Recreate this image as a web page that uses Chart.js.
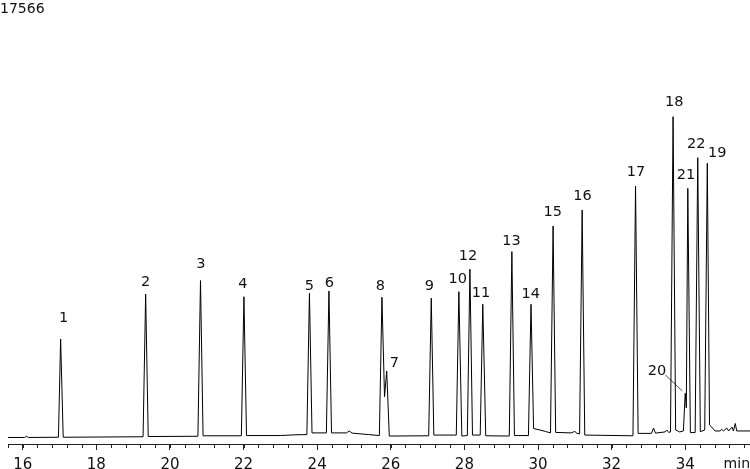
<!DOCTYPE html>
<html>
<head>
<meta charset="utf-8">
<script src="https://cdn.jsdelivr.net/npm/chart.js@4.4.0/dist/chart.umd.min.js"></script>
<style>
    html, body { margin: 0; padding: 0; background: #fff; }
    #wrap { width: 750px; height: 469px; position: relative; }
</style>
</head>
<body>
<div id="wrap"><canvas id="chromatogram"></canvas></div>
<script>
// Trace: retention time (min) and detector signal (counts)
var times = [
    15.60, 16.05, 16.10, 16.16, 16.97, 17.03, 17.10, 19.27, 19.34, 19.41,
    20.76, 20.83, 20.90, 21.94, 22.01, 22.08, 23.00, 23.40, 23.72, 23.79,
    23.86, 24.25, 24.32, 24.39, 24.80, 24.87, 24.95, 25.40, 25.69, 25.76,
    25.83, 25.89, 25.96, 27.03, 27.10, 27.17, 27.78, 27.85, 27.93, 28.08,
    28.15, 28.22, 28.43, 28.50, 28.58, 29.22, 29.29, 29.36, 29.74, 29.81,
    29.88, 30.00, 30.20, 30.34, 30.41, 30.48, 30.90, 31.00, 31.06, 31.13,
    31.20, 31.27, 32.58, 32.65, 32.72, 33.08, 33.14, 33.19, 33.45, 33.50,
    33.55, 33.60, 33.67, 33.74, 33.85, 33.95, 34.00, 34.03, 34.07, 34.14,
    34.27, 34.34, 34.41, 34.53, 34.60, 34.66, 34.72, 34.81, 34.95, 34.99,
    35.04, 35.13, 35.18, 35.27, 35.31, 35.36, 35.40, 35.76
];
var signal = [
    270, 270, 320, 270, 280, 4350, 280, 300, 6210, 310,
    320, 6770, 340, 340, 6100, 350, 350, 380, 390, 6240,
    460, 460, 6340, 460, 460, 540, 450, 390, 350, 6080,
    1960, 3020, 330, 340, 6040, 370, 370, 6310, 330, 350,
    7240, 370, 370, 5790, 340, 330, 7970, 350, 350, 5790,
    640, 600, 520, 460, 9030, 480, 460, 520, 440, 420,
    9690, 370, 340, 10690, 440, 440, 660, 450, 500, 580,
    480, 500, 13560, 580, 500, 540, 2100, 1500, 10590, 470,
    480, 11860, 510, 580, 11630, 790, 700, 540, 540, 610,
    540, 660, 540, 700, 540, 850, 540, 540
];

// Peak numbers and label anchors (time, counts)
var peakNames = ['1', '2', '3', '4', '5', '6', '7', '8', '9', '10', '11',
                 '12', '13', '14', '15', '16', '17', '18', '19', '20', '21', '22'];
var peakLabelTimes = [17.11, 19.34, 20.84, 21.98, 23.79, 24.33, 26.10, 25.72, 27.05, 27.82, 28.45,
                      28.10, 29.28, 29.80, 30.40, 31.21, 32.66, 33.70, 34.87, 33.23, 34.02, 34.30];
var peakLabelCounts = [5210, 6720, 7460, 6610, 6530, 6680, 3360, 6540, 6520, 6830, 6240,
                       7760, 8410, 6220, 9620, 10270, 11240, 14150, 12040, 3030, 11120, 12420];

// leader line from label 20 to its peak
var leaderTimes = [33.46, 33.92];
var leaderCounts = [2860, 2200];

var xTicks = [16, 18, 20, 22, 24, 26, 28, 30, 32, 34];
var xMin = 15.6;
var xMax = 35.76;
var maxCount = 17566;

var FONT = '"DejaVu Sans", Verdana, sans-serif';

// peak numbers, minor ticks, max count and the "min" unit
var annotatePlugin = {
    id: 'annotate',
    afterDraw: function (chart) {
        var ctx = chart.ctx;
        var x = chart.scales.x;
        var y = chart.scales.y;
        ctx.save();

        // minor ticks every 0.4 min
        ctx.strokeStyle = '#222';
        ctx.lineWidth = 1;
        ctx.beginPath();
        for (var t = xMin; t <= xMax; t += 0.4) {
            var px = Math.round(x.getPixelForValue(t)) + 0.5;
            ctx.moveTo(px, x.top);
            ctx.lineTo(px, x.top + 4);
        }
        ctx.stroke();

        ctx.fillStyle = '#111';
        ctx.font = '14.5px ' + FONT;
        ctx.textAlign = 'center';
        ctx.textBaseline = 'middle';
        peakNames.forEach(function (name, i) {
            ctx.fillText(name, x.getPixelForValue(peakLabelTimes[i]), y.getPixelForValue(peakLabelCounts[i]));
        });

        ctx.font = '14px ' + FONT;
        ctx.textAlign = 'left';
        ctx.textBaseline = 'alphabetic';
        ctx.fillText(String(maxCount), 0, 13);

        ctx.textAlign = 'right';
        ctx.fillText('min', 750, 468);
        ctx.restore();
    }
};

var ctx = document.getElementById('chromatogram').getContext('2d');
new Chart(ctx, {
    type: 'line',
    data: {
        datasets: [
            {
                data: times.map(function (t, i) { return { x: t, y: signal[i] }; }),
                borderColor: '#000',
                borderWidth: 1,
                pointRadius: 0,
                tension: 0,
                fill: false
            },
            {
                data: leaderTimes.map(function (t, i) { return { x: t, y: leaderCounts[i] }; }),
                borderColor: '#222',
                borderWidth: 0.8,
                pointRadius: 0,
                fill: false
            }
        ]
    },
    options: {
        responsive: true,
        maintainAspectRatio: false,
        animation: false,
        layout: { padding: { top: 20, left: 8, right: 0, bottom: 0 } },
        plugins: {
            legend: { display: false },
            tooltip: { enabled: false }
        },
        scales: {
            x: {
                type: 'linear',
                min: xMin,
                max: xMax,
                afterBuildTicks: function (scale) {
                    scale.ticks = xTicks.map(function (v) { return { value: v }; });
                },
                afterFit: function (scale) {
                    scale.height = 25;
                },
                grid: {
                    drawOnChartArea: false,
                    tickLength: 6,
                    tickColor: '#222'
                },
                border: { color: '#222', width: 1 },
                ticks: {
                    color: '#111',
                    padding: 6,
                    maxRotation: 0,
                    font: { family: FONT, size: 15 }
                }
            },
            y: {
                display: false,
                min: 0,
                max: maxCount
            }
        }
    },
    plugins: [annotatePlugin]
});
</script>
</body>
</html>
